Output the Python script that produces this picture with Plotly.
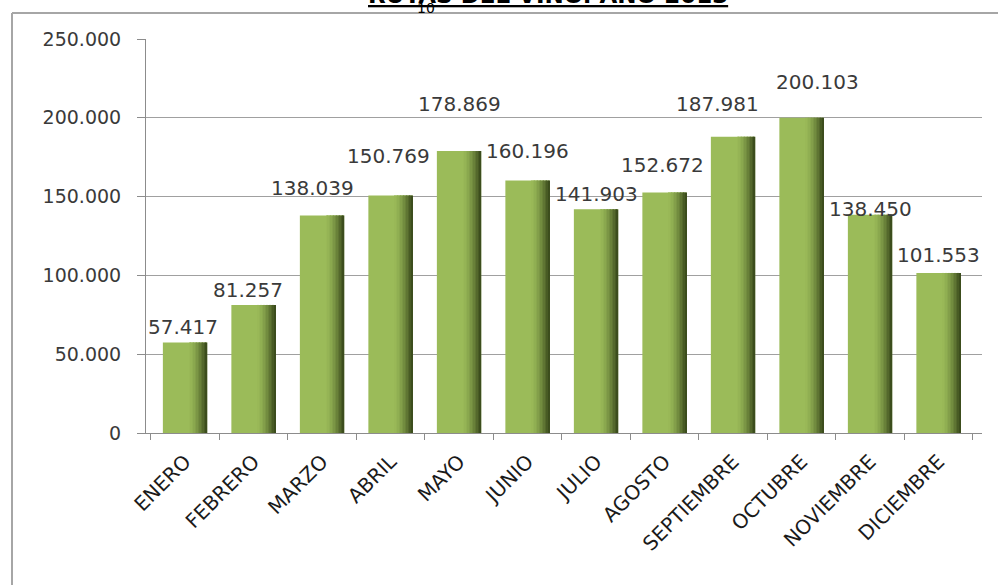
import plotly.graph_objects as go

# Monthly visitors, Rutas del Vino 2013
months = ["ENERO", "FEBRERO", "MARZO", "ABRIL", "MAYO", "JUNIO", "JULIO",
          "AGOSTO", "SEPTIEMBRE", "OCTUBRE", "NOVIEMBRE", "DICIEMBRE"]
visitors = [57417, 81257, 138039, 150769, 178869, 160196, 141903,
            152672, 187981, 200103, 138450, 101553]
y_ticks = [0, 50000, 100000, 150000, 200000, 250000]

# label nudges in pixels (dx, dy) relative to each bar top
label_shift = [(-2, 16), (-6, 15), (-10, 27), (-2, 39), (0, 47), (0, 30),
               (0, 15), (-2, 27), (-16, 33), (16, 36), (0, 6), (0, 18)]

W, H = 998, 585
L, R, T, B = 146, 16, 39, 152
BAR_W = 0.646


def px_x(px):
    return (px - L) / (W - L - R)


def px_y(py):
    return (H - B - py) / (H - T - B)


def fmt(v):
    return f"{v:,}".replace(",", ".")


fig = go.Figure()

# flat body of each column
fig.add_trace(go.Bar(x=months, y=visitors, width=BAR_W, offset=-BAR_W / 2,
                     marker=dict(color="#9BBB59", line=dict(width=0)),
                     hoverinfo="skip"))

# darker strips toward the right edge give the rounded, shaded look
light = (155, 187, 89)
dark = (60, 77, 29)
n_strips = 12
start = 0.06
step = (BAR_W / 2 - start) / n_strips
for k in range(n_strips):
    t = ((k + 1) / n_strips) ** 1.6
    c = tuple(int(light[j] + (dark[j] - light[j]) * t) for j in range(3))
    fig.add_trace(go.Bar(x=months, y=visitors, width=step + 0.002,
                         offset=start + k * step,
                         marker=dict(color=f"rgb{c}", line=dict(width=0)),
                         hoverinfo="skip"))

# value labels
for m, v, (dx, dy) in zip(months, visitors, label_shift):
    fig.add_annotation(x=m, y=v, text=fmt(v), showarrow=False,
                       xshift=dx, yshift=dy, yanchor="middle",
                       font=dict(family="DejaVu Sans", size=20, color="#3a3a3a"))

# title and page mark along the top edge
fig.add_annotation(xref="paper", yref="paper", x=px_x(548), y=px_y(-6),
                   text="<b><u>RUTAS DEL VINO. AÑO 2013</u></b>",
                   showarrow=False, xanchor="center", yanchor="middle",
                   font=dict(family="DejaVu Sans", size=23, color="#000000"))
fig.add_annotation(xref="paper", yref="paper", x=px_x(426), y=px_y(8),
                   text="10", showarrow=False, xanchor="center", yanchor="middle",
                   font=dict(family="DejaVu Sans", size=14, color="#000000"))

# outer frame (left and top edges)
frame = dict(color="#a6a6a6", width=2)
fig.add_shape(type="line", xref="paper", yref="paper",
              x0=px_x(12), x1=px_x(12), y0=px_y(13), y1=px_y(600), line=frame)
fig.add_shape(type="line", xref="paper", yref="paper",
              x0=px_x(12), x1=px_x(1010), y0=px_y(13), y1=px_y(13), line=frame)

fig.update_layout(
    width=W, height=H,
    margin=dict(l=L, r=R, t=T, b=B),
    barmode="overlay",
    separators=",.",
    showlegend=False,
    hovermode=False,
    plot_bgcolor="white",
    paper_bgcolor="white",
    xaxis=dict(type="category", tickson="boundaries", ticks="outside",
               ticklen=6, tickcolor="#8c8c8c", showline=True,
               linecolor="#8c8c8c", linewidth=1, showgrid=False,
               tickangle=-45, ticklabelstandoff=8,
               tickfont=dict(family="DejaVu Sans", size=20, color="#1a1a1a")),
    yaxis=dict(range=[0, 250000], tickvals=y_ticks, tickformat=",.0f",
               ticks="outside", ticklen=8, tickcolor="#8c8c8c",
               showline=True, linecolor="#8c8c8c", linewidth=1,
               gridcolor="#a0a0a0", gridwidth=1, zeroline=False,
               ticklabelstandoff=12,
               tickfont=dict(family="DejaVu Sans", size=19, color="#3a3a3a")),
)

fig.write_html("out.html")
